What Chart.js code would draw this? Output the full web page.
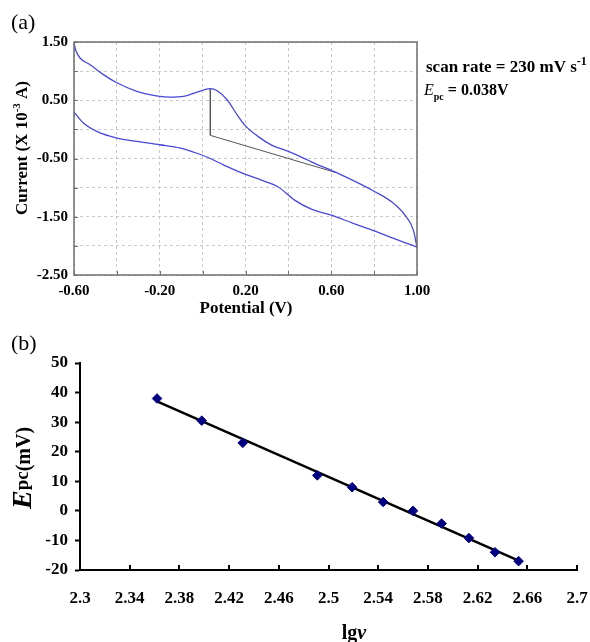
<!DOCTYPE html>
<html>
<head>
<meta charset="utf-8">
<script src="https://cdn.jsdelivr.net/npm/chart.js@4.4.0/dist/chart.umd.min.js"></script>
<style>
  html, body { margin: 0; padding: 0; background: #fff; }
  #pagina { position: relative; width: 590px; height: 642px; }
  #chart-cv { position: absolute; left: 0; top: 0; }
  #chart-lg { position: absolute; left: 0; top: 320px; }
</style>
</head>
<body>
<div id="pagina">
  <canvas id="chart-cv" width="590" height="320"></canvas>
  <canvas id="chart-lg" width="590" height="322"></canvas>
</div>
<script>
// ==================== DADOS (a) - VOLTAMOGRAMA ====================
// ramo de ida (varredura -0.6 -> 1.0 V)
const idaPotencial = [
  -0.600, -0.590, -0.572, -0.525, -0.463, -0.400, -0.307, -0.200, -0.151, -0.089,
  -0.026, 0.036, 0.068, 0.114, 0.161, 0.200, 0.258, 0.320, 0.400, 0.478,
  0.507, 0.632, 0.804, 0.882, 0.944, 0.983, 1.000
];
const idaCorrente = [
  1.480, 1.340, 1.225, 1.110, 0.940, 0.800, 0.653, 0.567, 0.555, 0.567,
  0.640, 0.700, 0.663, 0.509, 0.251, 0.060, -0.120, -0.265, -0.378, -0.505,
  -0.557, -0.756, -1.070, -1.244, -1.473, -1.730, -2.020
];
// ramo de volta (guardado em ordem crescente de potencial)
const voltaPotencial = [
  -0.600, -0.556, -0.494, -0.400, -0.307, -0.200, -0.104, -0.026, 0.036, 0.099,
  0.200, 0.274, 0.351, 0.429, 0.507, 0.600, 0.700, 0.804, 0.900, 1.000
];
const voltaCorrente = [
  0.297, 0.108, -0.035, -0.149, -0.206, -0.264, -0.321, -0.410, -0.500, -0.613,
  -0.773, -0.871, -0.986, -1.215, -1.370, -1.473, -1.610, -1.747, -1.885, -2.020
];
// linha de base usada para medir o pico
const basePotencial = [0.036, 0.036, 0.620];
const baseCorrente = [0.700, -0.103, -0.740];

// ==================== DADOS (b) - Epc x lg v ====================
const lgV = [2.362, 2.398, 2.431, 2.491, 2.519, 2.544, 2.568, 2.591, 2.613, 2.634, 2.653];
const epc = [38, 30.5, 23, 12, 8, 3, 0, -4.3, -9.2, -14, -17];
const ajusteX = [2.362, 2.653];
const ajusteY = [37.0, -16.8];

const FONTE = '"Liberation Serif", "Times New Roman", serif';
const AZUL = '#4848d8';

function pares(xs, ys) {
  return xs.map((x, i) => ({ x: x, y: ys[i] }));
}

// escreve um texto feito de pedaços (sobrescrito, subscrito, itálico)
function escreverPartes(ctx, partes, x, y, alinhar) {
  let total = 0;
  partes.forEach(p => { ctx.font = p.font; total += ctx.measureText(p.t).width; });
  let cx = alinhar === 'center' ? x - total / 2 : x;
  partes.forEach(p => {
    ctx.font = p.font;
    ctx.fillText(p.t, cx, y + (p.dy || 0));
    cx += ctx.measureText(p.t).width;
  });
}

function escreverVertical(ctx, partes, x, y) {
  ctx.save();
  ctx.translate(x, y);
  ctx.rotate(-Math.PI / 2);
  escreverPartes(ctx, partes, 0, 0, 'center');
  ctx.restore();
}

// ==================== GRÁFICO (a) ====================
const textosCV = {
  id: 'textosCV',
  afterDraw(chart) {
    const ctx = chart.ctx;
    const area = chart.chartArea;
    const sx = chart.scales.x, sy = chart.scales.y;

    // moldura e marcas internas
    ctx.save();
    ctx.strokeStyle = '#6e6e6e';
    ctx.lineWidth = 1.5;
    ctx.strokeRect(area.left, area.top, area.right - area.left, area.bottom - area.top);
    ctx.lineWidth = 1;
    ctx.beginPath();
    sx.ticks.forEach(t => {
      const px = Math.round(sx.getPixelForValue(t.value)) + 0.5;
      ctx.moveTo(px, area.bottom);
      ctx.lineTo(px, area.bottom - 4);
    });
    sy.ticks.forEach(t => {
      const py = Math.round(sy.getPixelForValue(t.value)) + 0.5;
      ctx.moveTo(area.left, py);
      ctx.lineTo(area.left + 4, py);
    });
    ctx.stroke();
    ctx.restore();

    ctx.save();
    ctx.fillStyle = '#000';
    ctx.textBaseline = 'alphabetic';
    ctx.textAlign = 'left';
    escreverPartes(ctx, [{ t: '(a)', font: `22px ${FONTE}` }], 11, 29);
    escreverVertical(ctx, [
      { t: 'Current (X 10', font: `bold 17px ${FONTE}` },
      { t: '-3', font: `bold 11px ${FONTE}`, dy: -7 },
      { t: ' A)', font: `bold 17px ${FONTE}` }
    ], 27, 148);
    escreverPartes(ctx, [{ t: 'Potential (V)', font: `bold 17px ${FONTE}` }], 246, 313, 'center');
    escreverPartes(ctx, [
      { t: 'scan rate = 230 mV s', font: `bold 17px ${FONTE}` },
      { t: '-1', font: `bold 12px ${FONTE}`, dy: -7 }
    ], 426, 72);
    escreverPartes(ctx, [
      { t: 'E', font: `italic 16px ${FONTE}` },
      { t: 'pc', font: `bold 10px ${FONTE}`, dy: 5 },
      { t: ' = 0.038V', font: `bold 16px ${FONTE}` }
    ], 424, 95);
    ctx.restore();
  }
};

const ramo = (xs, ys) => ({
  data: pares(xs, ys),
  showLine: true,
  borderColor: AZUL,
  borderWidth: 1.3,
  pointRadius: 0,
  cubicInterpolationMode: 'monotone'
});

new Chart(document.getElementById('chart-cv'), {
  type: 'scatter',
  data: {
    datasets: [
      ramo(idaPotencial, idaCorrente),
      ramo(voltaPotencial, voltaCorrente),
      {
        data: pares(basePotencial, baseCorrente),
        showLine: true,
        borderColor: '#555555',
        borderWidth: 1,
        pointRadius: 0,
        tension: 0
      }
    ]
  },
  options: {
    responsive: false,
    animation: false,
    devicePixelRatio: 1,
    layout: { padding: { top: 42, right: 173, left: 0, bottom: 0 } },
    plugins: { legend: { display: false }, tooltip: { enabled: false } },
    scales: {
      x: {
        type: 'linear',
        min: -0.6,
        max: 1.0,
        afterFit: s => { s.height = 45; s.paddingLeft = 0; s.paddingRight = 0; },
        grid: { color: '#c8c8c8', lineWidth: 1, drawTicks: false },
        border: { display: false, dash: [3, 3] },
        ticks: {
          stepSize: 0.2,
          autoSkip: false,
          maxRotation: 0,
          padding: 7,
          color: '#000',
          font: { family: FONTE, size: 15, weight: 'bold' },
          callback: (v, i) => (i % 2 === 0 ? Number(v).toFixed(2) : '')
        }
      },
      y: {
        type: 'linear',
        min: -2.5,
        max: 1.5,
        afterFit: s => { s.width = 74; },
        grid: { color: '#c8c8c8', lineWidth: 1, drawTicks: false },
        border: { display: false, dash: [3, 3] },
        ticks: {
          stepSize: 0.5,
          autoSkip: false,
          padding: 6,
          color: '#000',
          font: { family: FONTE, size: 15, weight: 'bold' },
          callback: (v, i) => (i % 2 === 0 ? Number(v).toFixed(2) : '')
        }
      }
    }
  },
  plugins: [textosCV]
});

// ==================== GRÁFICO (b) ====================
const textosLG = {
  id: 'textosLG',
  afterDraw(chart) {
    const ctx = chart.ctx;
    const area = chart.chartArea;
    const sx = chart.scales.x;

    // marcas do eixo x voltadas para dentro
    ctx.save();
    ctx.strokeStyle = '#000';
    ctx.lineWidth = 2;
    ctx.beginPath();
    sx.ticks.forEach(t => {
      const px = Math.round(sx.getPixelForValue(t.value));
      ctx.moveTo(px, area.bottom);
      ctx.lineTo(px, area.bottom - 5);
    });
    ctx.stroke();
    ctx.restore();

    ctx.save();
    ctx.fillStyle = '#000';
    ctx.textBaseline = 'alphabetic';
    ctx.textAlign = 'left';
    escreverPartes(ctx, [{ t: '(b)', font: `22px ${FONTE}` }], 11, 30);
    escreverVertical(ctx, [
      { t: 'E', font: `italic bold 28px ${FONTE}` },
      { t: 'pc', font: `bold 19px ${FONTE}`, dy: -3 },
      { t: '(mV)', font: `bold 20px ${FONTE}`, dy: -1 }
    ], 31, 148);
    escreverPartes(ctx, [
      { t: 'lg', font: `bold 20px ${FONTE}` },
      { t: 'ν', font: `italic bold 20px ${FONTE}` }
    ], 354, 319, 'center');
    ctx.restore();
  }
};

new Chart(document.getElementById('chart-lg'), {
  type: 'scatter',
  data: {
    datasets: [
      {
        data: pares(lgV, epc),
        pointStyle: 'rectRot',
        pointRadius: 4.8,
        backgroundColor: '#000080',
        borderColor: '#000080',
        borderWidth: 1,
        order: 0
      },
      {
        data: pares(ajusteX, ajusteY),
        showLine: true,
        borderColor: '#000',
        borderWidth: 2.5,
        pointRadius: 0,
        tension: 0,
        order: 1
      }
    ]
  },
  options: {
    responsive: false,
    animation: false,
    devicePixelRatio: 1,
    layout: { padding: { top: 43, right: 13, left: 0, bottom: 0 } },
    plugins: { legend: { display: false }, tooltip: { enabled: false } },
    scales: {
      x: {
        type: 'linear',
        min: 2.3,
        max: 2.7,
        // largura fixa: ignora a folga automática dos rótulos das pontas
        afterFit: s => { s.height = 72; s.paddingLeft = 0; s.paddingRight = 0; },
        grid: { display: false },
        border: { display: true, color: '#000', width: 2 },
        ticks: {
          stepSize: 0.04,
          autoSkip: false,
          maxRotation: 0,
          padding: 10,
          color: '#000',
          font: { family: FONTE, size: 17, weight: 'bold' },
          callback: v => String(Number(Number(v).toFixed(2)))
        }
      },
      y: {
        type: 'linear',
        min: -20,
        max: 50,
        afterFit: s => { s.width = 80; },
        grid: { display: true, drawOnChartArea: false, drawTicks: true, tickLength: 5, tickWidth: 2, tickColor: '#000' },
        border: { display: true, color: '#000', width: 2 },
        ticks: {
          stepSize: 10,
          autoSkip: false,
          padding: 7,
          color: '#000',
          font: { family: FONTE, size: 17, weight: 'bold' }
        }
      }
    }
  },
  plugins: [textosLG]
});
</script>
</body>
</html>
